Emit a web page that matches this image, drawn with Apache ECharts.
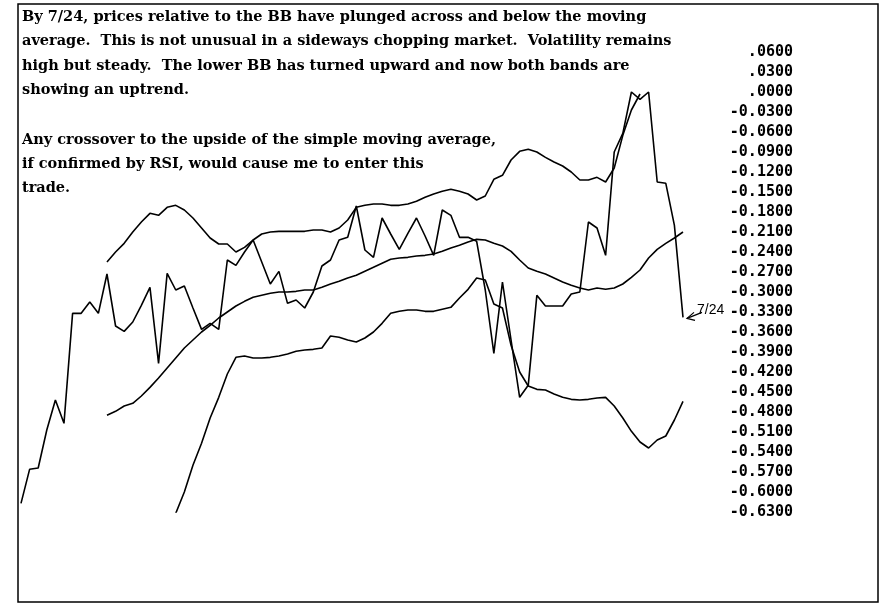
<!DOCTYPE html>
<html><head><meta charset="utf-8">
<script src="https://cdn.jsdelivr.net/npm/echarts@6/dist/echarts.min.js"></script>
<style>html,body{margin:0;padding:0;background:#fff}#c{width:881px;height:607px}</style>
</head><body><div id="c"></div>
<script>
// ---- data ----
const days = Array.from({length: 78}, (_, i) => String(i + 1));
const price = [-0.617,-0.566,-0.564,-0.507,-0.462,-0.497,-0.332,-0.332,-0.315,-0.332,
-0.273,-0.351,-0.359,-0.345,-0.320,-0.293,-0.407,-0.272,-0.297,-0.291,
-0.324,-0.356,-0.347,-0.356,-0.252,-0.260,-0.240,-0.222,-0.255,-0.288,
-0.269,-0.317,-0.312,-0.324,-0.300,-0.261,-0.252,-0.222,-0.218,-0.171,
-0.237,-0.248,-0.189,-0.213,-0.236,-0.212,-0.189,-0.216,-0.245,-0.177,
-0.185,-0.218,-0.218,-0.224,-0.297,-0.392,-0.285,-0.372,-0.458,-0.440,
-0.305,-0.321,-0.321,-0.321,-0.303,-0.300,-0.195,-0.204,-0.245,-0.090,
-0.062,0.000,-0.011,0.000,-0.135,-0.137,-0.200,-0.338];
const upperBB = [null,null,null,null,null,null,null,null,null,null,
-0.255,-0.240,-0.227,-0.210,-0.195,-0.182,-0.185,-0.173,-0.170,-0.177,
-0.189,-0.204,-0.219,-0.228,-0.228,-0.240,-0.233,-0.222,-0.213,-0.210,
-0.209,-0.209,-0.209,-0.209,-0.207,-0.207,-0.210,-0.204,-0.192,-0.173,
-0.170,-0.168,-0.168,-0.170,-0.170,-0.168,-0.164,-0.158,-0.153,-0.149,
-0.146,-0.149,-0.153,-0.162,-0.156,-0.131,-0.125,-0.102,-0.089,-0.086,
-0.090,-0.098,-0.105,-0.111,-0.120,-0.132,-0.132,-0.128,-0.135,-0.114,
-0.065,-0.027,-0.003,null,null,null,null,null];
const movingAvg = [null,null,null,null,null,null,null,null,null,null,
-0.485,-0.479,-0.471,-0.467,-0.456,-0.443,-0.429,-0.414,-0.399,-0.384,
-0.372,-0.360,-0.350,-0.339,-0.330,-0.321,-0.314,-0.308,-0.305,-0.302,
-0.300,-0.300,-0.299,-0.297,-0.297,-0.293,-0.288,-0.284,-0.279,-0.275,
-0.269,-0.263,-0.257,-0.251,-0.249,-0.248,-0.246,-0.245,-0.243,-0.239,
-0.234,-0.230,-0.225,-0.221,-0.222,-0.227,-0.231,-0.239,-0.252,-0.264,
-0.269,-0.273,-0.279,-0.285,-0.290,-0.294,-0.297,-0.294,-0.296,-0.294,
-0.288,-0.278,-0.267,-0.249,-0.236,-0.227,-0.219,-0.210];
const lowerBB = [null,null,null,null,null,null,null,null,null,null,
null,null,null,null,null,null,null,null,-0.632,-0.600,
-0.560,-0.527,-0.489,-0.458,-0.423,-0.398,-0.396,-0.399,-0.399,-0.398,
-0.396,-0.393,-0.389,-0.387,-0.386,-0.384,-0.366,-0.368,-0.372,-0.375,
-0.369,-0.360,-0.347,-0.332,-0.329,-0.327,-0.327,-0.329,-0.329,-0.326,
-0.323,-0.309,-0.296,-0.279,-0.282,-0.318,-0.324,-0.380,-0.420,-0.441,
-0.446,-0.447,-0.453,-0.458,-0.461,-0.462,-0.461,-0.459,-0.458,-0.471,
-0.489,-0.509,-0.525,-0.534,-0.522,-0.516,-0.492,-0.464];
const yTickLabels = ['.0600','.0300','.0000','-0.0300','-0.0600','-0.0900','-0.1200','-0.1500',
'-0.1800','-0.2100','-0.2400','-0.2700','-0.3000','-0.3300','-0.3600','-0.3900','-0.4200',
'-0.4500','-0.4800','-0.5100','-0.5400','-0.5700','-0.6000','-0.6300'];
const yMax = 0.06, yMin = -0.63, yStep = 0.03;
const noteLines = [
 'By 7/24, prices relative to the BB have plunged across and below the moving',
 'average.  This is not unusual in a sideways chopping market.  Volatility remains',
 'high but steady.  The lower BB has turned upward and now both bands are',
 'showing an uptrend.',
 '',
 'Any crossover to the upside of the simple moving average,',
 'if confirmed by RSI, would cause me to enter this',
 'trade.'
];
const endLabel = '7/24';

// ---- chart ----
const chart = echarts.init(document.getElementById('c'), null, {renderer: 'canvas'});
const lineStyle = {color: '#000', width: 1.6};
function mk(name, data) {
  return {name, type: 'line', data, symbol: 'none', smooth: false, connectNulls: false,
    lineStyle, clip: true, silent: true, z: 3};
}
chart.setOption({
  animation: false,
  backgroundColor: '#fff',
  grid: {left: 21, right: 198, top: 52, bottom: 95, containLabel: false},
  xAxis: {type: 'category', data: days, boundaryGap: false,
    axisLine: {show: false}, axisTick: {show: false}, axisLabel: {show: false}, splitLine: {show: false}},
  yAxis: {type: 'value', position: 'right', min: yMin, max: yMax, interval: yStep,
    axisLine: {show: false}, axisTick: {show: false}, splitLine: {show: false},
    axisLabel: {show: true, margin: 110, align: 'right', color: '#000',
      fontFamily: 'DejaVu Sans Mono', fontWeight: 'bold', fontSize: 15,
      showMinLabel: true, showMaxLabel: true,
      formatter: v => yTickLabels[Math.round((yMax - v) / yStep)] || ''}},
  series: [mk('Price', price), mk('Upper BB', upperBB), mk('Moving Average', movingAvg), mk('Lower BB', lowerBB)]
});

const last = price.length - 1;
const p = chart.convertToPixel({seriesIndex: 0}, [last, price[last]]);
const hx = p[0] + 4, hy = p[1] + 1;
const graphics = [
  {type: 'rect', shape: {x: 18, y: 4, width: 860, height: 598}, style: {fill: 'none', stroke: '#000', lineWidth: 1.5}, z: 1},
  {type: 'line', shape: {x1: hx, y1: hy, x2: hx + 15, y2: hy - 6}, style: {stroke: '#000', lineWidth: 1.2}, z: 5},
  {type: 'polyline', shape: {points: [[hx + 7, hy - 6], [hx, hy], [hx + 8, hy + 2]]}, style: {stroke: '#000', fill: 'none', lineWidth: 1.2}, z: 5},
  {type: 'text', x: p[0] + 14, y: p[1] - 7, style: {text: endLabel, fill: '#000', font: '14px "Liberation Sans"', textAlign: 'left', textVerticalAlign: 'middle'}, z: 5}
];
const lineY = [17, 41, 66, 90, 115, 140, 164, 188];
noteLines.forEach((t, i) => {
  if (!t) return;
  graphics.push({type: 'text', x: 22, y: lineY[i], style: {text: t, fill: '#000',
    font: 'bold 14.5px "DejaVu Serif"', textAlign: 'left', textVerticalAlign: 'middle'}, z: 5});
});
chart.setOption({graphic: graphics});
</script>
</body></html>
